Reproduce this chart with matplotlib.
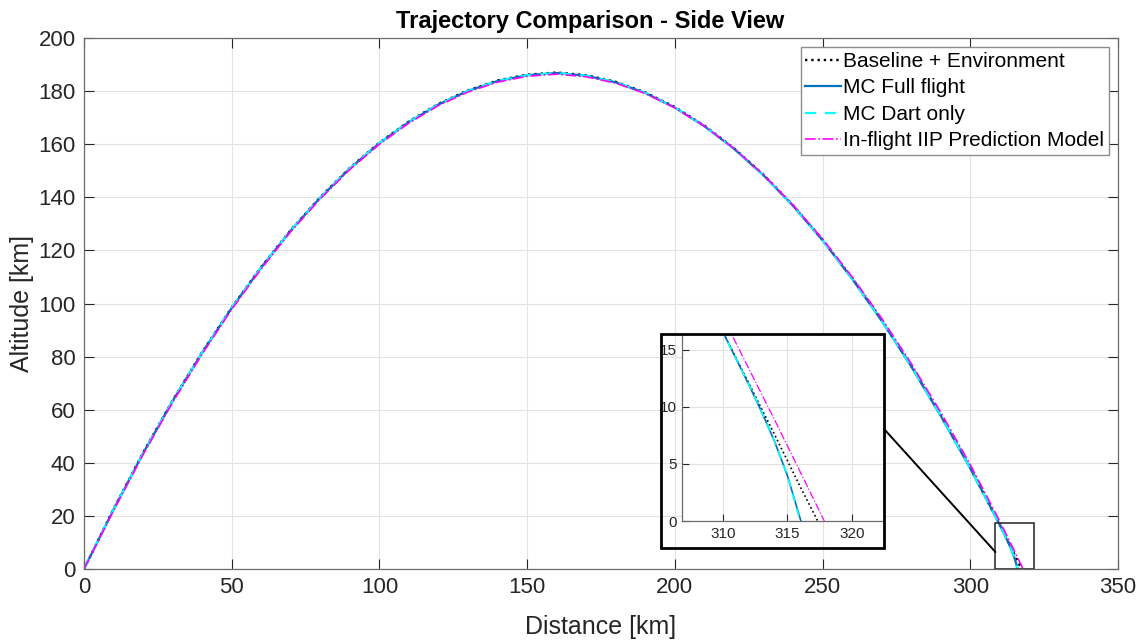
import matplotlib
matplotlib.use("Agg")
import matplotlib.pyplot as plt
from matplotlib.patches import Rectangle, ConnectionPatch

plt.rcParams["font.family"] = ["Liberation Sans", "DejaVu Sans"]

# distance samples shared by all series up to 300 km
dist_km = [0, 10, 20, 30, 40, 50, 60, 70, 80, 90, 100, 110, 120, 130, 140, 150,
           160, 170, 180, 190, 200, 210, 220, 230, 240, 250, 260, 270, 280, 290, 300]

alt_baseline = [0, 22.6, 43.8, 63.5, 81.7, 98.5, 113.8, 127.7, 140.1, 151.1, 160.6,
                168.6, 175.2, 180.3, 184.0, 186.2, 187.0, 186.0, 183.5, 179.5, 174.0,
                167.0, 158.5, 148.5, 137.0, 124.0, 109.5, 93.7, 76.5, 57.9, 38.1]
alt_mc_full = [0, 22.4, 43.6, 63.3, 81.5, 98.3, 113.6, 127.5, 139.9, 150.9, 160.4,
               168.4, 175.0, 180.1, 183.8, 186.0, 186.8, 185.8, 183.3, 179.3, 173.8,
               166.8, 158.3, 148.3, 136.8, 123.8, 109.3, 93.5, 76.3, 57.7, 37.9]
alt_mc_dart = [0, 22.4, 43.6, 63.3, 81.5, 98.3, 113.6, 127.5, 139.9, 150.9, 160.4,
               168.4, 175.0, 180.1, 183.8, 186.0, 186.8, 185.8, 183.3, 179.3, 173.8,
               166.8, 158.3, 148.3, 136.8, 123.8, 109.3, 93.5, 76.3, 57.7, 37.9]
alt_iip = [0, 22.0, 43.1, 62.8, 81.0, 97.8, 113.1, 127.1, 139.5, 150.5, 160.0,
           168.0, 174.6, 179.7, 183.4, 185.6, 186.4, 185.4, 183.0, 179.1, 173.7,
           166.8, 158.4, 148.5, 137.1, 124.3, 110.0, 94.4, 77.4, 59.0, 39.3]

# impact region
tail_dist_baseline = [310, 312, 314, 316, 317.35]
tail_alt_baseline = [16.6, 12.1, 7.6, 3.0, 0]
tail_dist_mc_full = [310, 311, 312, 313, 314, 315, 316.05]
tail_alt_mc_full = [16.6, 14.3, 12.0, 9.6, 7.0, 4.0, 0]
tail_dist_mc_dart = [310, 311, 312, 313, 314, 315, 316.0]
tail_alt_mc_dart = [16.6, 14.3, 12.0, 9.6, 7.0, 4.0, 0]
tail_dist_iip = [310, 312, 314, 316, 317.86]
tail_alt_iip = [17.9, 13.4, 8.9, 4.3, 0]

series = [
    ("Baseline + Environment", dist_km + tail_dist_baseline, alt_baseline + tail_alt_baseline,
     dict(color="k", linestyle=":", linewidth=1.7)),
    ("MC Full flight", dist_km + tail_dist_mc_full, alt_mc_full + tail_alt_mc_full,
     dict(color="#0072BD", linestyle="-", linewidth=1.6)),
    ("MC Dart only", dist_km + tail_dist_mc_dart, alt_mc_dart + tail_alt_mc_dart,
     dict(color="#00FFFF", linestyle=(0, (5, 4)), linewidth=1.6)),
    ("In-flight IIP Prediction Model", dist_km + tail_dist_iip, alt_iip + tail_alt_iip,
     dict(color="#FF00FF", linestyle="-.", linewidth=1.2)),
]

axis_col = "#262626"

fig = plt.figure(figsize=(11.46, 6.41), dpi=100)
ax = fig.add_axes([0.0733, 0.1123, 0.9023, 0.8284])
for label, x, y, style in series:
    ax.plot(x, y, label=label, **style)

ax.set_xlim(0, 350)
ax.set_ylim(0, 200)
ax.set_xticks(range(0, 351, 50))
ax.set_yticks(range(0, 201, 20))
ax.grid(True, color="#e3e3e3", linewidth=0.8)
ax.set_axisbelow(True)
ax.tick_params(direction="in", length=7, width=0.8, labelsize=16, colors=axis_col,
               top=True, right=True, pad=6)
for s in ax.spines.values():
    s.set_color("#6a6a6a")
    s.set_linewidth(0.9)
ax.set_xlabel("Distance [km]", fontsize=18, color=axis_col, labelpad=12)
ax.set_ylabel("Altitude [km]", fontsize=18, color=axis_col, labelpad=3)
ax.set_title("Trajectory Comparison - Side View", fontsize=17, fontweight="bold",
             x=0.489, pad=7)

leg = ax.legend(loc="upper right", fontsize=15, handlelength=1.7, handletextpad=0.12,
                labelspacing=0.36, borderpad=0.22, borderaxespad=0.45,
                fancybox=False, framealpha=1, edgecolor="#8c8c8c")
leg.get_frame().set_linewidth(1.0)

# zoom box on the main axes
ax.add_patch(Rectangle((308.5, 0), 13, 17.3, fill=False, edgecolor="#333333", linewidth=1.2,
                       zorder=5))

# inset
axin = fig.add_axes([0.5951, 0.1872, 0.1754, 0.2902])
for label, x, y, style in series:
    st = dict(style)
    st["linewidth"] = 1.2 if label != "In-flight IIP Prediction Model" else 0.9
    axin.plot(x, y, **st)
axin.set_xlim(306.85, 322.4)
axin.set_ylim(0, 16.3)
axin.set_xticks([310, 315, 320])
axin.set_yticks([0, 5, 10, 15])
axin.grid(True, color="#e3e3e3", linewidth=0.8)
axin.tick_params(direction="in", length=5, width=0.8, labelsize=11, colors=axis_col, pad=4)
axin.spines["top"].set_visible(False)
axin.spines["right"].set_visible(False)
for k in ("left", "bottom"):
    axin.spines[k].set_color("#6a6a6a")
    axin.spines[k].set_linewidth(0.9)

frame = Rectangle((0.5768, 0.1451), 0.1946, 0.3339, transform=fig.transFigure, fill=False,
                  edgecolor="black", linewidth=2.0, zorder=10)
fig.patches.append(frame)

con = ConnectionPatch(xyA=(0.1946 + 0.5768, 0.1451 + 0.1857), coordsA=fig.transFigure,
                      xyB=(308.5, 6.4), coordsB=ax.transData, color="black", linewidth=1.4)
fig.add_artist(con)

fig.savefig("out.png", dpi=100)
